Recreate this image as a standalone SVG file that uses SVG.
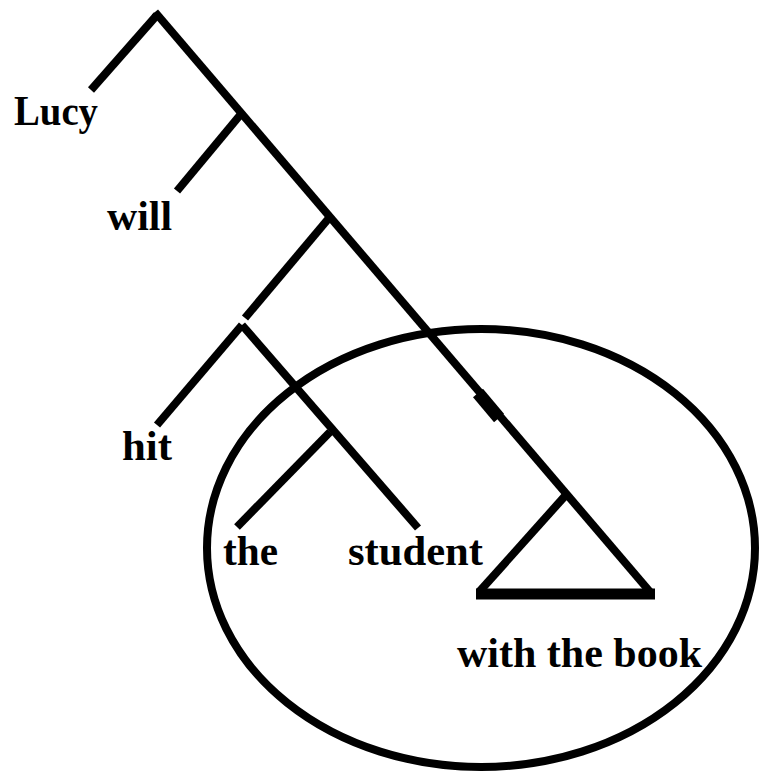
<svg xmlns="http://www.w3.org/2000/svg" width="762" height="775" viewBox="0 0 762 775">
<style>
.e{fill:none;stroke:#000;stroke-width:8;stroke-linecap:butt;stroke-linejoin:miter}
.t{font-family:"Liberation Serif","Times New Roman",serif;font-weight:bold;font-size:43px;fill:#000}
</style>
<rect width="762" height="775" fill="#fff"/>
<g id="connectors">
<line class="e" x1="155" y1="12" x2="651" y2="593"/>
<line class="e" x1="157" y1="15" x2="91" y2="90"/>
<line class="e" x1="241" y1="114" x2="177" y2="191"/>
<line class="e" x1="329" y1="218" x2="245" y2="318"/>
<line class="e" x1="242" y1="325" x2="157" y2="425"/>
<line class="e" x1="242" y1="325" x2="418" y2="528"/>
<line class="e" x1="330" y1="432" x2="237" y2="527"/>
<line class="e" x1="565" y1="496" x2="479" y2="592"/>
<line class="e" style="stroke-width:13" x1="478" y1="393" x2="499" y2="418"/>
<line class="e" style="stroke-width:11" x1="476" y1="594" x2="655" y2="594"/>
<ellipse class="e" cx="481" cy="548" rx="274" ry="219"/>
</g>
<g id="lucy"><text class="t" x="14" y="125" textLength="84" lengthAdjust="spacingAndGlyphs">Lucy</text></g>
<g id="will"><text class="t" x="107" y="230" textLength="65" lengthAdjust="spacingAndGlyphs">will</text></g>
<g id="hit"><text class="t" x="122" y="460" textLength="50" lengthAdjust="spacingAndGlyphs">hit</text></g>
<g id="the"><text class="t" x="223" y="565" textLength="55" lengthAdjust="spacingAndGlyphs">the</text></g>
<g id="student"><text class="t" x="348" y="565" textLength="135" lengthAdjust="spacingAndGlyphs">student</text></g>
<g id="with-the-book"><text class="t" x="457" y="667" textLength="245" lengthAdjust="spacingAndGlyphs">with the book</text></g>
</svg>
